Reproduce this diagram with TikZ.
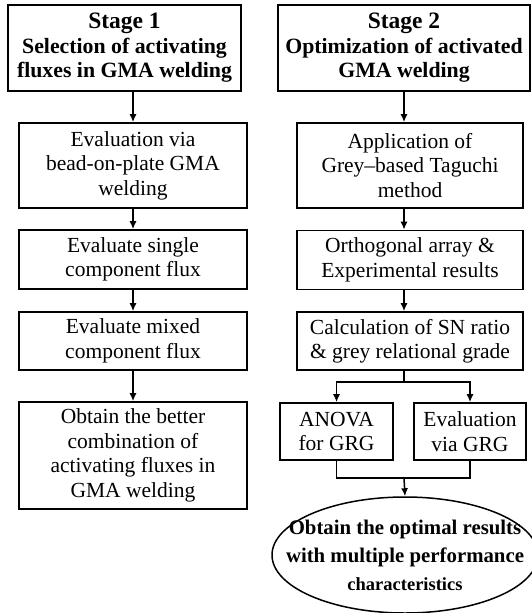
\documentclass[tikz,border=0pt]{standalone}
\usepackage{fontspec}
\setmainfont{Liberation Serif}
\usetikzlibrary{arrows.meta,shapes.geometric}

\begin{document}
\begin{tikzpicture}[
x=1pt,y=-1pt,
box/.style={
  draw,
  line width=1.6pt,
  inner sep=3pt,
  align=center,
  font=\fontsize{21.5}{24.5}\selectfont
},
head/.style={
  box,
  font=\fontsize{21.8}{24.5}\selectfont\bfseries
},
goal/.style={
  draw,
  ellipse,
  line width=1.5pt,
  inner xsep=-25pt,
  inner ysep=0pt,
  align=center,
  font=\fontsize{20.8}{28}\selectfont\bfseries
},
arr/.style={-{Latex[length=8pt,width=7pt]},line width=1.5pt},
wire/.style={line width=1.5pt}
]
\useasboundingbox (0,0) rectangle (531,613);

\node[head,minimum width=233pt,minimum height=86pt] (s1) at (124.5,48)
  {{\fontsize{23.5}{26}\selectfont Stage 1}\\Selection of activating\\fluxes in GMA welding};
\node[box,minimum width=228pt,minimum height=85pt] (e1) at (133,165.5)
  {Evaluation via\\bead-on-plate GMA\\welding};
\node[box,minimum width=228pt,minimum height=59pt] (e2) at (133,259.5)
  {Evaluate single\\component flux};
\node[box,minimum width=228pt,minimum height=58pt] (e3) at (133,341)
  {Evaluate mixed\\component flux};
\node[box,minimum width=228pt,minimum height=107pt] (e4) at (133,455.5)
  {Obtain the better\\combination of\\activating fluxes in\\GMA welding};

\node[head,minimum width=252pt,minimum height=86pt] (s2) at (404,48)
  {{\fontsize{23.5}{26}\selectfont Stage 2}\\Optimization of activated\\GMA welding};
\node[box,minimum width=226pt,minimum height=85pt] (r1) at (410,165.5)
  {Application of\\Grey--based Taguchi\\method};
\node[box,minimum width=226pt,minimum height=59pt] (r2) at (410,260)
  {Orthogonal array \&\\Experimental results};
\node[box,minimum width=226pt,minimum height=58pt] (r3) at (410,341)
  {Calculation of SN ratio\\\& grey relational grade};
\node[box,minimum width=113pt,minimum height=57pt] (an) at (336.5,431.5)
  {ANOVA\\for GRG};
\node[box,minimum width=112pt,minimum height=57pt] (ev) at (470,431.5)
  {Evaluation\\via GRG};
\node[goal,minimum width=266pt,minimum height=116pt] (res) at (405,555)
  {Obtain the optimal results\\with multiple performance\\{\fontsize{18.5}{28}\selectfont characteristics}};

\draw[arr] (s1.south -| e1.north) -- (e1.north);
\draw[arr] (e1) -- (e2);
\draw[arr] (e2) -- (e3);
\draw[arr] (e3) -- (e4);

\draw[arr] (s2.south) -- (s2.south |- r1.north);
\draw[arr] (s2.south |- r1.south) -- (s2.south |- r2.north);
\draw[arr] (s2.south |- r2.south) -- (s2.south |- r3.north);
\draw[wire] (s2.south |- r3.south) -- ++(0,11) coordinate (fork);
\draw[arr] (fork) -| (an.north);
\draw[arr] (fork) -| (ev.north);
\draw[wire] (an.south) -- ++(0,17) coordinate (merge) -| (ev.south);
\draw[arr] (merge -| fork) -- (res.north);
\end{tikzpicture}
\end{document}
